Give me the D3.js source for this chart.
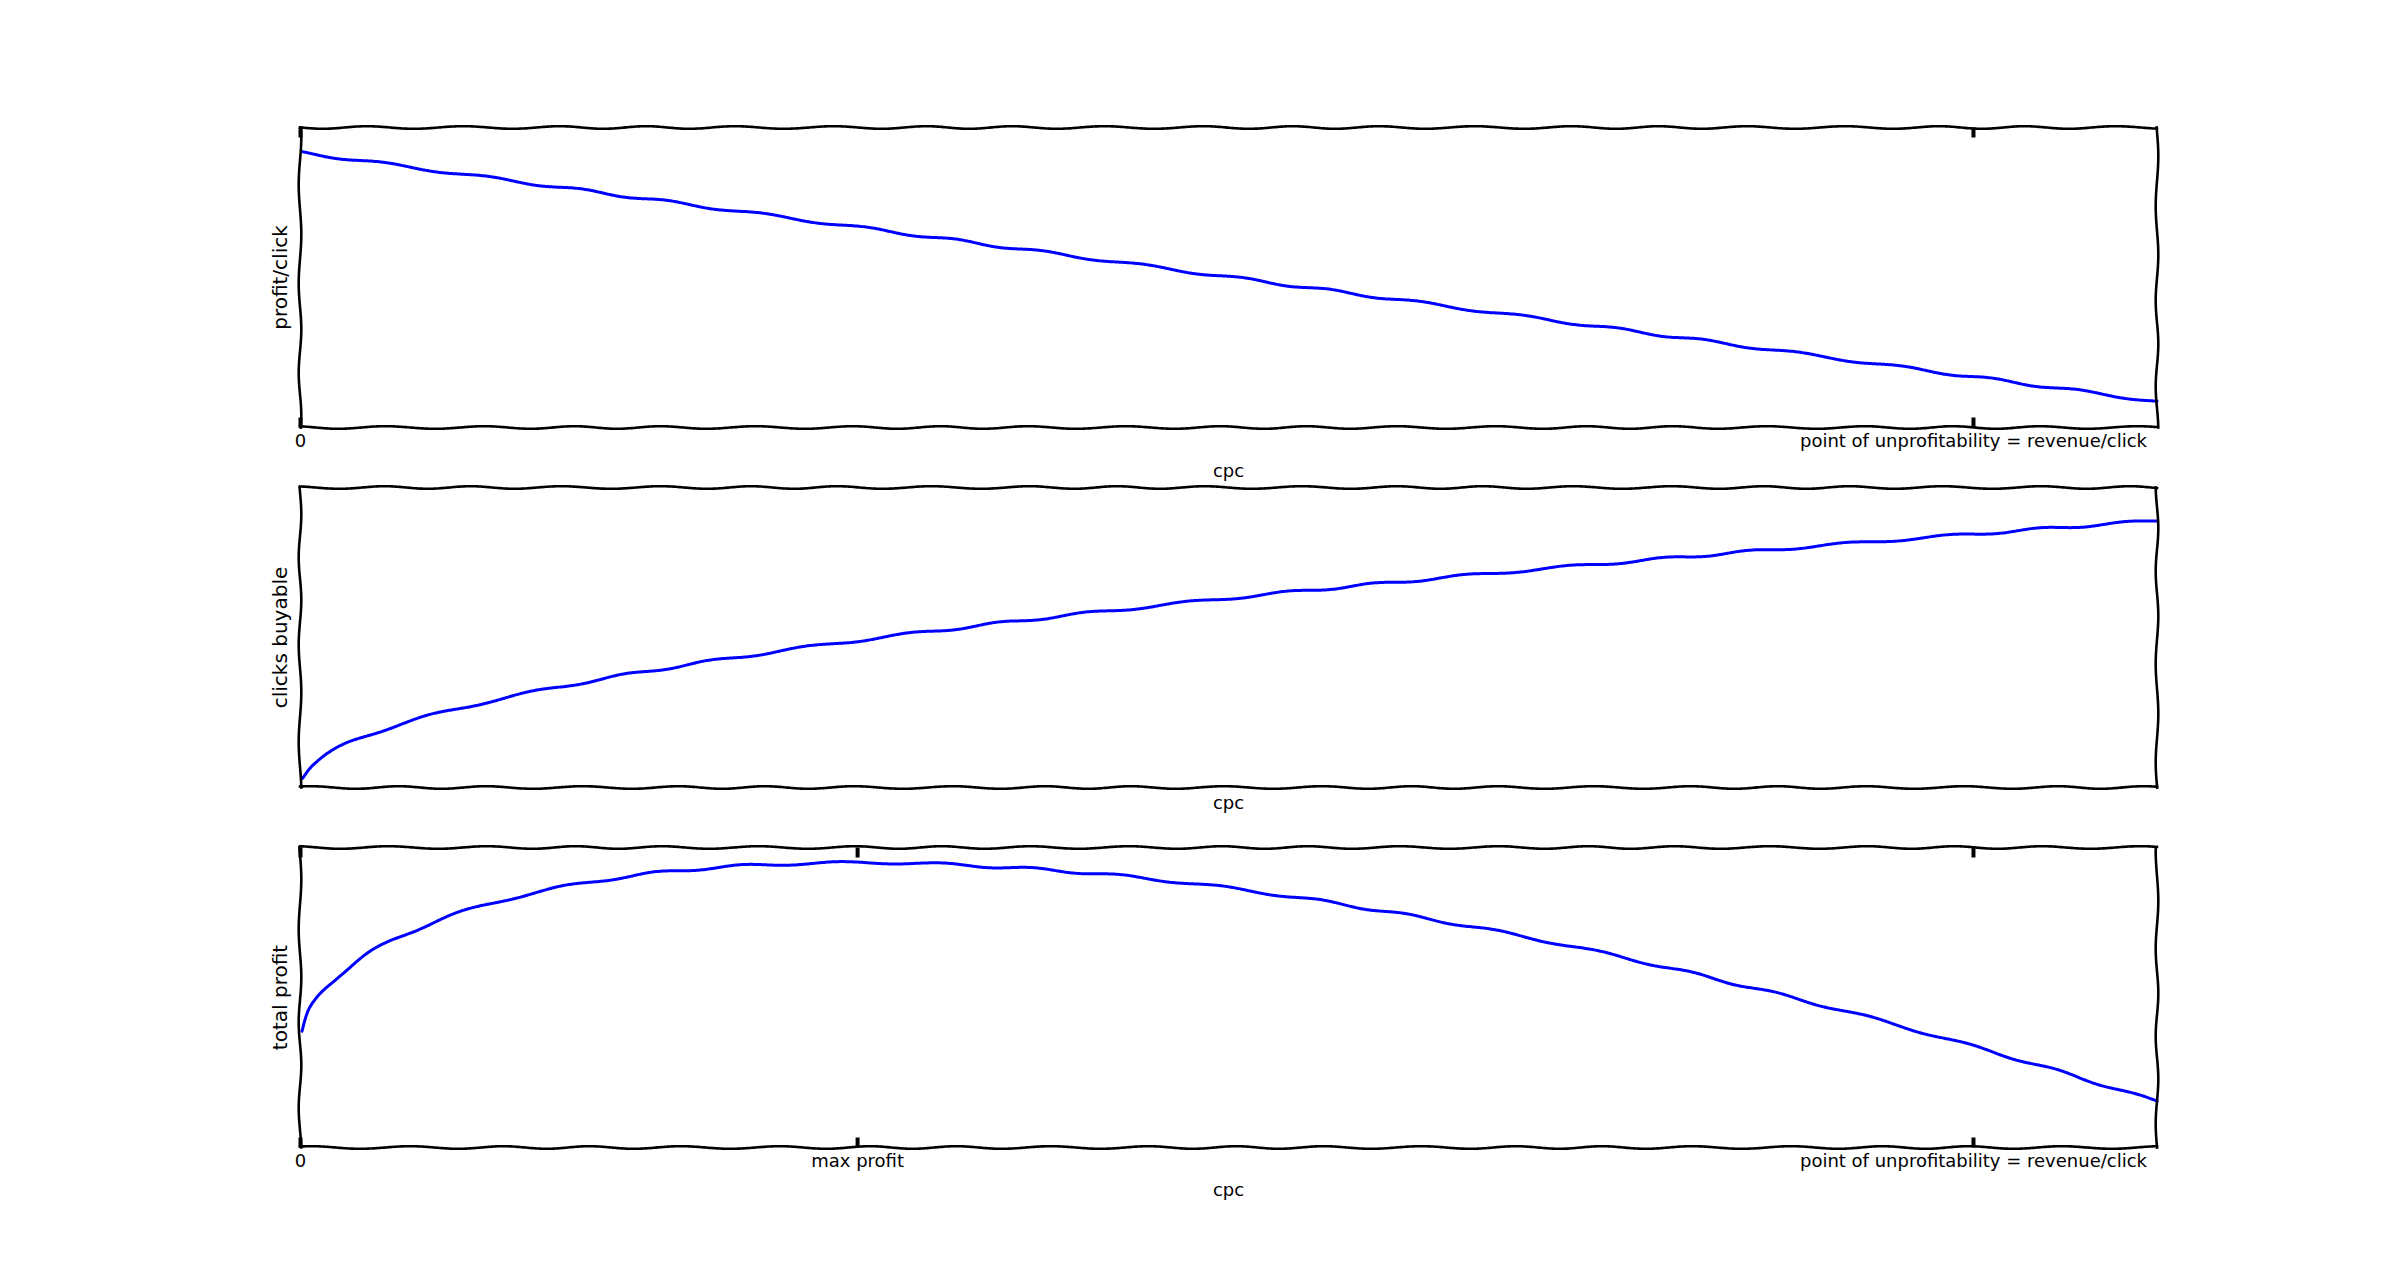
<!DOCTYPE html>
<html><head><meta charset="utf-8">
<script src="https://cdn.jsdelivr.net/npm/d3@7"></script>
<style>html,body{margin:0;padding:0;background:#fff;} svg{display:block}</style>
</head><body>
<svg id="chart" width="2397" height="1275"></svg>
<script>
// ---- data ----
const cpc = [0.001,0.005,0.01,0.02,0.03,0.05,0.075,0.1,0.15,0.2,0.25,0.3,0.35,0.4,0.45,0.5,0.55,0.6,0.65,0.7,0.75,0.8,0.85,0.9,0.95,1.0,1.05,1.1,1.11];
const profitPerClick = [0.999,0.995,0.99,0.98,0.97,0.95,0.925,0.9,0.85,0.8,0.75,0.7,0.65,0.6,0.55,0.5,0.45,0.4,0.35,0.3,0.25,0.2,0.15,0.1,0.05,0,-0.05,-0.1,-0.11];
const clicksBuyable = [0.032,0.071,0.100,0.141,0.173,0.224,0.274,0.316,0.387,0.447,0.500,0.548,0.592,0.632,0.671,0.707,0.742,0.775,0.806,0.837,0.866,0.894,0.922,0.949,0.975,1.000,1.025,1.049,1.054];
const totalProfit = [0.032,0.070,0.099,0.138,0.168,0.213,0.253,0.285,0.329,0.358,0.375,0.383,0.385,0.379,0.369,0.354,0.334,0.310,0.282,0.251,0.217,0.179,0.138,0.095,0.049,0.000,-0.051,-0.105,-0.116];

const yLabels = ["profit/click", "clicks buyable", "total profit"];
const xLabel = "cpc";
const ticks1 = [0, 1.0];
const tickLabels1 = ["0", "point of unprofitability = revenue/click"];
const ticks2 = [];
const tickLabels2 = [];
const ticks3 = [0, 0.333, 1.0];
const tickLabels3 = ["0", "max profit", "point of unprofitability = revenue/click"];
const xDomain = [0, 1.11];
const yDomains = [[-0.226, 1.111], [-0.006, 1.185], [-0.212, 0.4167]];

// ---- layout ----
const W = 2397, H = 1275;
const left = 300, right = 2157;
const tops = [127.5, 487.5, 847.5];
const ph = 300;
const xLabelBaselines = [477, 809, 1196];
const FONT = "'Comic Sans MS','Humor Sans','DejaVu Sans',sans-serif";

const svg = d3.select("#chart");
svg.append("rect").attr("width", W).attr("height", H).attr("fill", "#fff");

function sketch(pathD, seed, amp, period, mod) {
  const tmp = svg.append("path").attr("d", pathD).attr("fill", "none");
  const node = tmp.node();
  const L = node.getTotalLength();
  const n = Math.max(2, Math.ceil(L / 2));
  const p1 = seed * 1.7, p2 = seed * 2.3;
  const pts = [];
  for (let i = 0; i <= n; i++) {
    const s = L * i / n;
    const p = node.getPointAtLength(s);
    const a = node.getPointAtLength(Math.max(0, s - 1));
    const b = node.getPointAtLength(Math.min(L, s + 1));
    const dx = b.x - a.x, dy = b.y - a.y;
    const len = Math.hypot(dx, dy) || 1;
    const nx = -dy / len, ny = dx / len;
    const off = amp * Math.sin(2 * Math.PI * s / period + p1 + mod * Math.sin(2 * Math.PI * s / (period * 3.7) + p2));
    pts.push([p.x + nx * off, p.y + ny * off]);
  }
  tmp.remove();
  return d3.line().curve(d3.curveBasis)(pts);
}

const series = [profitPerClick, clicksBuyable, totalProfit];
const tickSets = [[ticks1, tickLabels1], [ticks2, tickLabels2], [ticks3, tickLabels3]];

series.forEach((vals, i) => {
  const top = tops[i], bottom = top + ph;
  const x = d3.scaleLinear().domain(xDomain).range([left, right]);
  const y = d3.scaleLinear().domain(yDomains[i]).range([bottom, top]);
  const g = svg.append("g");

  // data line
  const lineGen = d3.line().x((d, k) => x(cpc[k])).y(d => y(d)).curve(d3.curveMonotoneX);
  g.append("path")
    .attr("d", sketch(lineGen(vals), 3 + i * 5, 1.3, 95, 0.4))
    .attr("fill", "none").attr("stroke", "#0000ff").attr("stroke-width", 3)
    .attr("stroke-linejoin", "round").attr("stroke-linecap", "round");

  // ticks (inward, top and bottom)
  const [tv, tl] = tickSets[i];
  const axB = d3.axisBottom(x).tickValues(tv).tickSizeInner(-10).tickSizeOuter(0).tickPadding(7)
    .tickFormat((d, k) => tl[k]);
  const gb = g.append("g").attr("transform", `translate(0,${bottom})`).call(axB);
  const axT = d3.axisTop(x).tickValues(tv).tickSizeInner(-10).tickSizeOuter(0).tickFormat("");
  const gt = g.append("g").attr("transform", `translate(0,${top})`).call(axT);
  [gb, gt].forEach(ga => {
    ga.select(".domain").remove();
    ga.selectAll(".tick line").attr("stroke", "#000").attr("stroke-width", 4);
    ga.selectAll(".tick text").attr("fill", "#000").style("font-family", FONT).style("font-size", "18px");
  });

  // spines (hand-drawn look)
  const spines = [
    `M${left},${top}L${right},${top}`,
    `M${left},${bottom}L${right},${bottom}`,
    `M${left},${top}L${left},${bottom}`,
    `M${right},${top}L${right},${bottom}`
  ];
  spines.forEach((d, k) => {
    g.append("path").attr("d", sketch(d, 11 + i * 7 + k * 3, 1.3, 92, 0.3))
      .attr("fill", "none").attr("stroke", "#000").attr("stroke-width", 2.6)
      .attr("stroke-linecap", "square");
  });

  // labels
  g.append("text").text(yLabels[i])
    .attr("transform", `translate(287,${(top + bottom) / 2}) rotate(-90)`)
    .attr("text-anchor", "middle").attr("fill", "#000")
    .style("font-family", FONT).style("font-size", "20px");
  g.append("text").text(xLabel)
    .attr("x", (left + right) / 2).attr("y", xLabelBaselines[i])
    .attr("text-anchor", "middle").attr("fill", "#000")
    .style("font-family", FONT).style("font-size", "18px");
});
</script>
</body></html>
